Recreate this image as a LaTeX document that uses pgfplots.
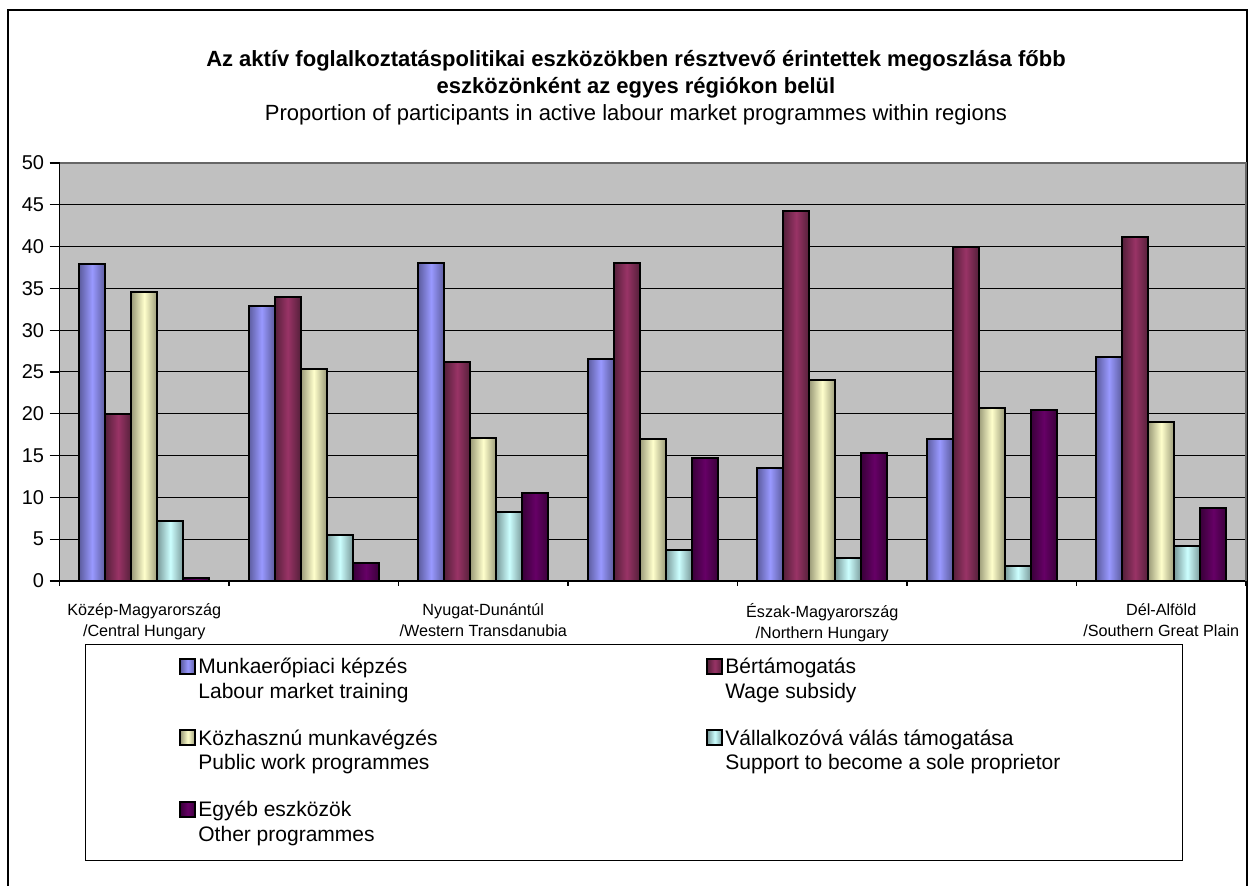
\documentclass[border=0pt]{standalone}
\usepackage{pgfplots}
\pgfplotsset{compat=1.18}
\usepackage{pgfplotstable}
\usepackage{fontspec}
\setmainfont{Liberation Sans}
\definecolor{cA}{HTML}{9999FF}\definecolor{cAd}{HTML}{5C5C9E}
\definecolor{cB}{HTML}{993366}\definecolor{cBd}{HTML}{55203A}
\definecolor{cC}{HTML}{FFFFCC}\definecolor{cCd}{HTML}{9A9A78}
\definecolor{cD}{HTML}{CCFFFF}\definecolor{cDd}{HTML}{7A9A9A}
\definecolor{cE}{HTML}{660066}\definecolor{cEd}{HTML}{3A003A}
\definecolor{plotbg}{HTML}{C0C0C0}
\pgfplotstableread{
x s1 s2 s3 s4 s5
0 37.9 20.0 34.6 7.2 0.3
1 32.9 34.0 25.3 5.5 2.2
2 38.0 26.2 17.1 8.2 10.5
3 26.5 38.0 17.0 3.7 14.7
4 13.5 44.3 24.0 2.8 15.3
5 17.0 39.9 20.7 1.8 20.5
6 26.8 41.2 19.0 4.2 8.7
}\datatable
\newcommand{\LE}[2]{\parbox[t]{181.5pt}{\raggedright\strut #1\strut\\\strut #2\strut}}
\newcommand{\series}[3]{%
  \pgfplotsinvokeforeach{0,...,6}{%
    \addplot[mybar=#2, forget plot, bar shift=#3] table[x=x,y=#1, restrict x to domain=##1:##1]{\datatable};}}
\begin{document}
\begin{tikzpicture}
\useasboundingbox (0,0) rectangle (624pt,443pt);
\draw[line width=0.8pt] (4pt,-2pt) -- (4pt,438pt) -- (623.6pt,438pt) -- (623.6pt,-2pt);
\node[anchor=base, font=\fontsize{11}{13.5}\selectfont\bfseries] at (318pt,409.5pt) {Az aktív foglalkoztatáspolitikai eszközökben résztvevő érintettek megoszlása főbb};
\node[anchor=base, font=\fontsize{11}{13.5}\selectfont\bfseries] at (318pt,396pt) {eszközönként az egyes régiókon belül};
\node[anchor=base, font=\fontsize{11}{13.5}\selectfont] at (318pt,382.5pt) {Proportion of participants in active labour market programmes within regions};
\begin{axis}[
  at={(29.75pt,152.5pt)}, anchor=south west,
  scale only axis, width=593.25pt, height=209pt,
  xmin=-0.5, xmax=6.5, ymin=0, ymax=50,
  ytick={0,5,...,50},
  xtick={0,...,6},
  xticklabels={{Közép-Magyarország\\/Central Hungary},{},{Nyugat-Dunántúl\\/Western Transdanubia},{},{Észak-Magyarország\\/Northern Hungary},{},{Dél-Alföld\\/Southern Great Plain}},
  minor xtick={-0.5,0.5,...,6.5},
  major x tick style={draw=none},
  axis x line*=bottom, axis y line*=left,
  axis line style={black, line width=0.6pt},
  tick align=outside,
  major tick length=5pt, minor tick length=2.5pt,
  tick style={black, line width=0.6pt},
  ymajorgrids, grid style={black, line width=0.5pt},
  axis background/.style={fill=plotbg},
  /pgf/number format/assume math mode=true,
  yticklabel style={font=\fontsize{10}{12}\selectfont, inner sep=0pt, xshift=-2.5pt},
  xticklabel style={align=center, font=\fontsize{8.1}{10.5}\selectfont, inner sep=0pt, yshift=-6pt},
  ybar=0pt, bar width=0.1538,
  legend columns=2,
  legend style={at={(0.0215,-0.1507)}, anchor=north west, draw=black, fill=white,
    inner xsep=47pt, inner ysep=6pt, row sep=11.25pt,
    cells={anchor=base west}, nodes={inner sep=0pt, text depth=},
    font=\fontsize{10.5}{12.25}\selectfont,
    /tikz/every odd column/.style={column sep=1pt},
    /tikz/every even column/.style={column sep=72.5pt}},
  mybar/.style={draw=black, line width=1pt, left color=#1d, right color=#1d, middle color=#1,
    legend image code/.code={\draw[##1, line width=1pt] (0pt,0pt) rectangle (7.5pt,7.5pt);}},
  after end axis/.code={\draw[color=gray!80!black, line width=1pt] (rel axis cs:0,1) -- (rel axis cs:1,1) -- (rel axis cs:1,0);},
]
\series{s1}{cA}{-0.3076}
\series{s2}{cB}{-0.1538}
\series{s3}{cC}{0}
\series{s4}{cD}{0.1538}
\series{s5}{cE}{0.3076}
\addlegendimage{mybar=cA}
\addlegendentry{\LE{Munkaerőpiaci képzés}{Labour market training}}
\addlegendimage{mybar=cB}
\addlegendentry{\LE{Bértámogatás}{Wage subsidy}}
\addlegendimage{mybar=cC}
\addlegendentry{\LE{Közhasznú munkavégzés}{Public work programmes}}
\addlegendimage{mybar=cD}
\addlegendentry{\LE{Vállalkozóvá válás támogatása}{Support to become a sole proprietor}}
\addlegendimage{mybar=cE}
\addlegendentry{\LE{Egyéb eszközök}{Other programmes}}
\end{axis}
\end{tikzpicture}
\end{document}
